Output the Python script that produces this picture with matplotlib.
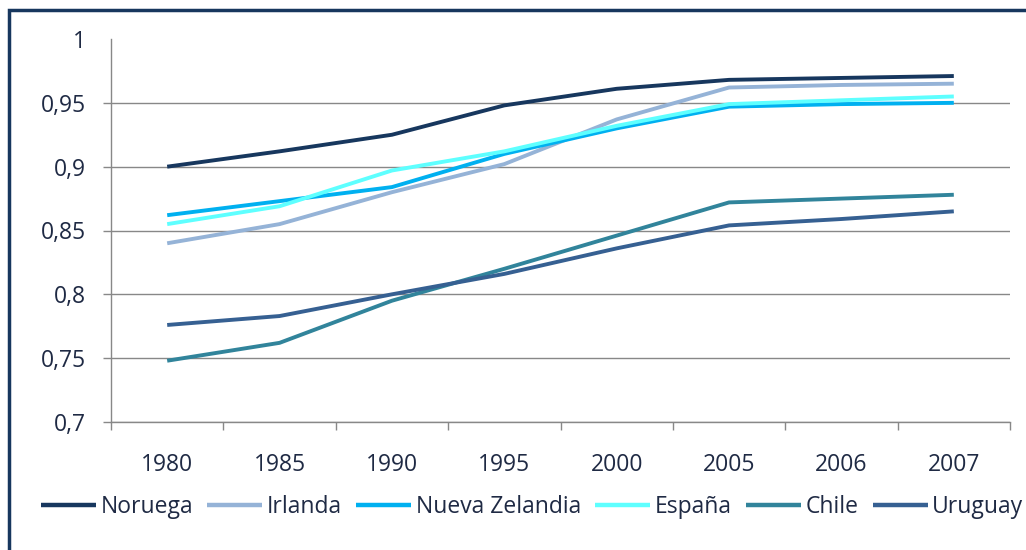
import matplotlib
matplotlib.use("Agg")
import matplotlib.pyplot as plt
from matplotlib.patches import Rectangle
import numpy as np

years = ["1980", "1985", "1990", "1995", "2000", "2005", "2006", "2007"]
noruega = [0.900, 0.912, 0.925, 0.948, 0.961, 0.968, 0.9695, 0.971]
irlanda = [0.840, 0.855, 0.880, 0.902, 0.937, 0.962, 0.964, 0.965]
nueva_zelandia = [0.862, 0.873, 0.884, 0.910, 0.930, 0.947, 0.949, 0.950]
espana = [0.855, 0.869, 0.897, 0.912, 0.932, 0.949, 0.952, 0.955]
chile = [0.748, 0.762, 0.795, 0.820, 0.846, 0.872, 0.875, 0.878]
uruguay = [0.776, 0.783, 0.800, 0.816, 0.836, 0.854, 0.859, 0.865]

series = [
    ("Noruega", noruega, "#17375E"),
    ("Irlanda", irlanda, "#95B3D7"),
    ("Nueva Zelandia", nueva_zelandia, "#00B0F0"),
    ("España", espana, "#5EFFFF"),
    ("Chile", chile, "#31849B"),
    ("Uruguay", uruguay, "#366092"),
]
yticks = [0.7, 0.75, 0.8, 0.85, 0.9, 0.95, 1.0]
ytick_labels = ["0,7", "0,75", "0,8", "0,85", "0,9", "0,95", "1"]

plt.rcParams['font.family'] = ['Open Sans', 'DejaVu Sans']
txt_color = "#1F2A44"
fs = 16.5

W, H = 1026, 550
fig = plt.figure(figsize=(W / 100, H / 100), dpi=100)
ax = fig.add_axes([111 / W, 1 - 422 / H, (1010 - 111) / W, (422 - 39) / H])

x = np.arange(len(years))
for name, vals, col in series:
    ax.plot(x, vals, color=col, lw=2.8, label=name, solid_capstyle="butt")

ax.set_xlim(-0.5, len(years) - 0.5)
ax.set_ylim(0.7, 1.0)
ax.set_yticks(yticks)
ax.set_yticklabels(ytick_labels)
ax.set_xticks(x)
ax.set_xticklabels(years)
ax.set_xticks(np.arange(-0.5, len(years), 1.0), minor=True)
ax.tick_params(axis="x", which="major", length=0, pad=22, labelsize=fs, labelcolor=txt_color)
ax.tick_params(axis="x", which="minor", length=6, width=1, color="#888888", direction="out")
ax.tick_params(axis="y", length=6, width=1, color="#888888", pad=12, labelsize=fs, labelcolor=txt_color)

ax.grid(axis="y", color="#888888", lw=1)
ax.set_axisbelow(True)
ygl = ax.yaxis.get_gridlines()
ygl[-1].set_visible(False)
ax.yaxis.get_major_ticks()[-1].tick1line.set_visible(False)

for s in ["top", "right"]:
    ax.spines[s].set_visible(False)
for s in ["left", "bottom"]:
    ax.spines[s].set_color("#888888")
    ax.spines[s].set_linewidth(1)

leg = fig.legend(loc="center", bbox_to_anchor=(532 / W, 1 - 507 / H), ncol=6, frameon=False,
                 fontsize=fs, handlelength=2.4, handletextpad=0.2, columnspacing=0.62,
                 borderpad=0, labelcolor=txt_color)
for line in leg.get_lines():
    line.set_linewidth(3.2)

fig.patches.append(Rectangle((9 / W, -0.1), 1.2, 1 - 10 / H + 0.1, transform=fig.transFigure,
                             fill=False, edgecolor="#17375E", lw=2.5))

fig.savefig("out.png", dpi=100)
